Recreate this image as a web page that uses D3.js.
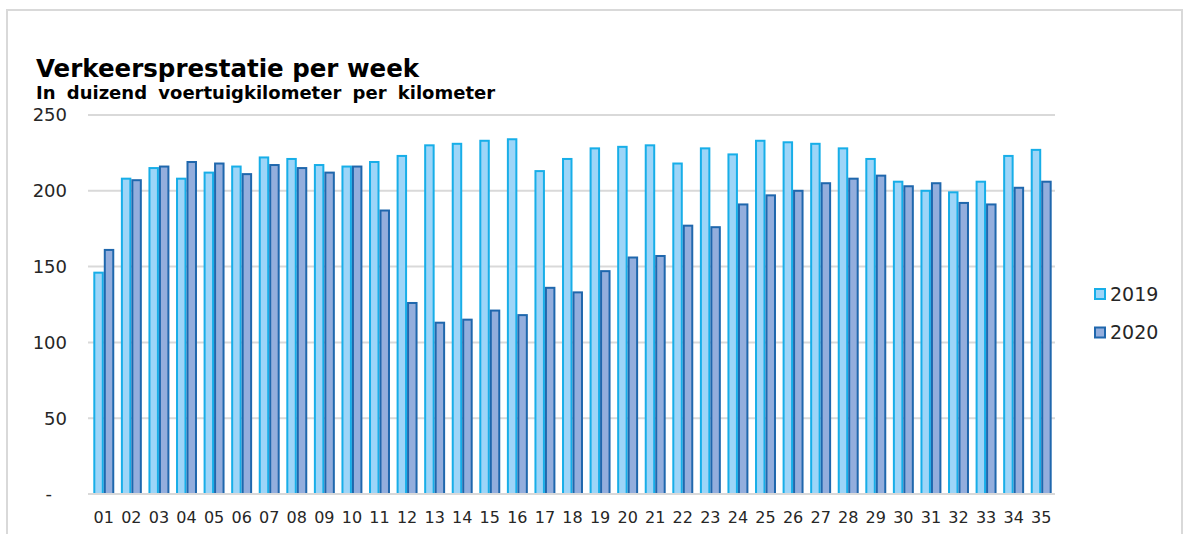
<!DOCTYPE html>
<html>
<head>
<meta charset="utf-8">
<script src="https://cdn.jsdelivr.net/npm/d3@7"></script>
<style>
  body { margin: 0; background: #fff; }
  text { font-family: "DejaVu Sans", Verdana, sans-serif; }
</style>
</head>
<body>
<script>
var weeks = ["01","02","03","04","05","06","07","08","09","10","11","12","13","14","15","16","17","18",
             "19","20","21","22","23","24","25","26","27","28","29","30","31","32","33","34","35"];
var v2019 = [146,208,215,208,212,216,222,221,217,216,219,223,230,231,233,234,213,221,
             228,229,230,218,228,224,233,232,231,228,221,206,200,199,206,223,227];
var v2020 = [161,207,216,219,218,211,217,215,212,216,187,126,113,115,121,118,136,133,
             147,156,157,177,176,191,197,200,205,208,210,203,205,192,191,202,206];
var series = ["2019", "2020"];
var yTicks = [0, 50, 100, 150, 200, 250];

var width = 1186, height = 534;
var margin = {left: 90, right: 131, top: 115, bottom: 40};

var fills = {"2019": "#9dd5f8", "2020": "#93aedd"};
var strokes = {"2019": "#17aee8", "2020": "#1f67ad"};

var svg = d3.select("body").append("svg")
    .attr("width", width)
    .attr("height", height);

// frame
svg.append("rect")
    .attr("x", 7).attr("y", 10)
    .attr("width", 1175).attr("height", 540)
    .attr("fill", "none")
    .attr("stroke", "#d9d9d9")
    .attr("stroke-width", 2);

var x = d3.scaleBand()
    .domain(weeks)
    .range([margin.left, width - margin.right])
    .paddingInner(0.24)
    .paddingOuter(0.12);

var xs = d3.scaleBand()
    .domain(series)
    .range([0, x.bandwidth()]);

var y = d3.scaleLinear()
    .domain([0, 250])
    .range([height - margin.bottom, margin.top]);

// gridlines
svg.append("g")
    .selectAll("line")
    .data(yTicks.slice(1))
    .enter()
    .append("line")
    .attr("x1", margin.left - 2)
    .attr("x2", width - margin.right)
    .attr("y1", function (d) { return y(d); })
    .attr("y2", function (d) { return y(d); })
    .attr("stroke", "#d9d9d9")
    .attr("stroke-width", 2);

// y labels
svg.append("g")
    .selectAll("text")
    .data(yTicks)
    .enter()
    .append("text")
    .attr("x", function (d) { return d === 0 ? 52 : 67; })
    .attr("y", function (d) { return y(d); })
    .attr("dy", "0.36em")
    .attr("text-anchor", "end")
    .attr("font-size", 18)
    .attr("fill", "#262626")
    .text(function (d) { return d === 0 ? "-" : d; });

// bars
var rows = weeks.map(function (w, i) {
    return {week: w, vals: [{s: "2019", v: v2019[i]}, {s: "2020", v: v2020[i]}]};
});

var groups = svg.append("g")
    .selectAll("g")
    .data(rows)
    .enter()
    .append("g")
    .attr("transform", function (d) { return "translate(" + x(d.week) + ",0)"; });

groups.selectAll("rect")
    .data(function (d) { return d.vals; })
    .enter()
    .append("rect")
    .attr("x", function (d) { return xs(d.s) + 1; })
    .attr("y", function (d) { return y(d.v); })
    .attr("width", xs.bandwidth() - 2)
    .attr("height", function (d) { return y(0) - y(d.v); })
    .attr("fill", function (d) { return fills[d.s]; })
    .attr("stroke", function (d) { return strokes[d.s]; })
    .attr("stroke-width", 2);

// baseline
svg.append("line")
    .attr("x1", margin.left - 2)
    .attr("x2", width - margin.right)
    .attr("y1", y(0)).attr("y2", y(0))
    .attr("stroke", "#d9d9d9")
    .attr("stroke-width", 2);

// x labels
svg.append("g")
    .selectAll("text")
    .data(weeks)
    .enter()
    .append("text")
    .attr("x", function (d) { return x(d) + x.bandwidth() / 2; })
    .attr("y", 523)
    .attr("text-anchor", "middle")
    .attr("font-size", 16)
    .attr("fill", "#262626")
    .text(function (d) { return d; });

// titles
svg.append("text")
    .attr("x", 36).attr("y", 77)
    .attr("font-size", 24.5)
    .attr("font-weight", "bold")
    .attr("fill", "#000")
    .text("Verkeersprestatie per week");

svg.append("text")
    .attr("x", 36).attr("y", 99)
    .attr("font-size", 18)
    .attr("font-weight", "bold")
    .attr("word-spacing", 5)
    .attr("fill", "#000")
    .text("In duizend voertuigkilometer per kilometer");

// legend
var legend = svg.append("g")
    .selectAll("g")
    .data(series)
    .enter()
    .append("g")
    .attr("transform", function (d, i) { return "translate(1095," + (289 + i * 38.5) + ")"; });

legend.append("rect")
    .attr("width", 10).attr("height", 10)
    .attr("fill", function (d) { return fills[d]; })
    .attr("stroke", function (d) { return strokes[d]; })
    .attr("stroke-width", 2);

legend.append("text")
    .attr("x", 15).attr("y", 5)
    .attr("dy", "0.36em")
    .attr("font-size", 19)
    .attr("fill", "#262626")
    .text(function (d) { return d; });
</script>
</body>
</html>
